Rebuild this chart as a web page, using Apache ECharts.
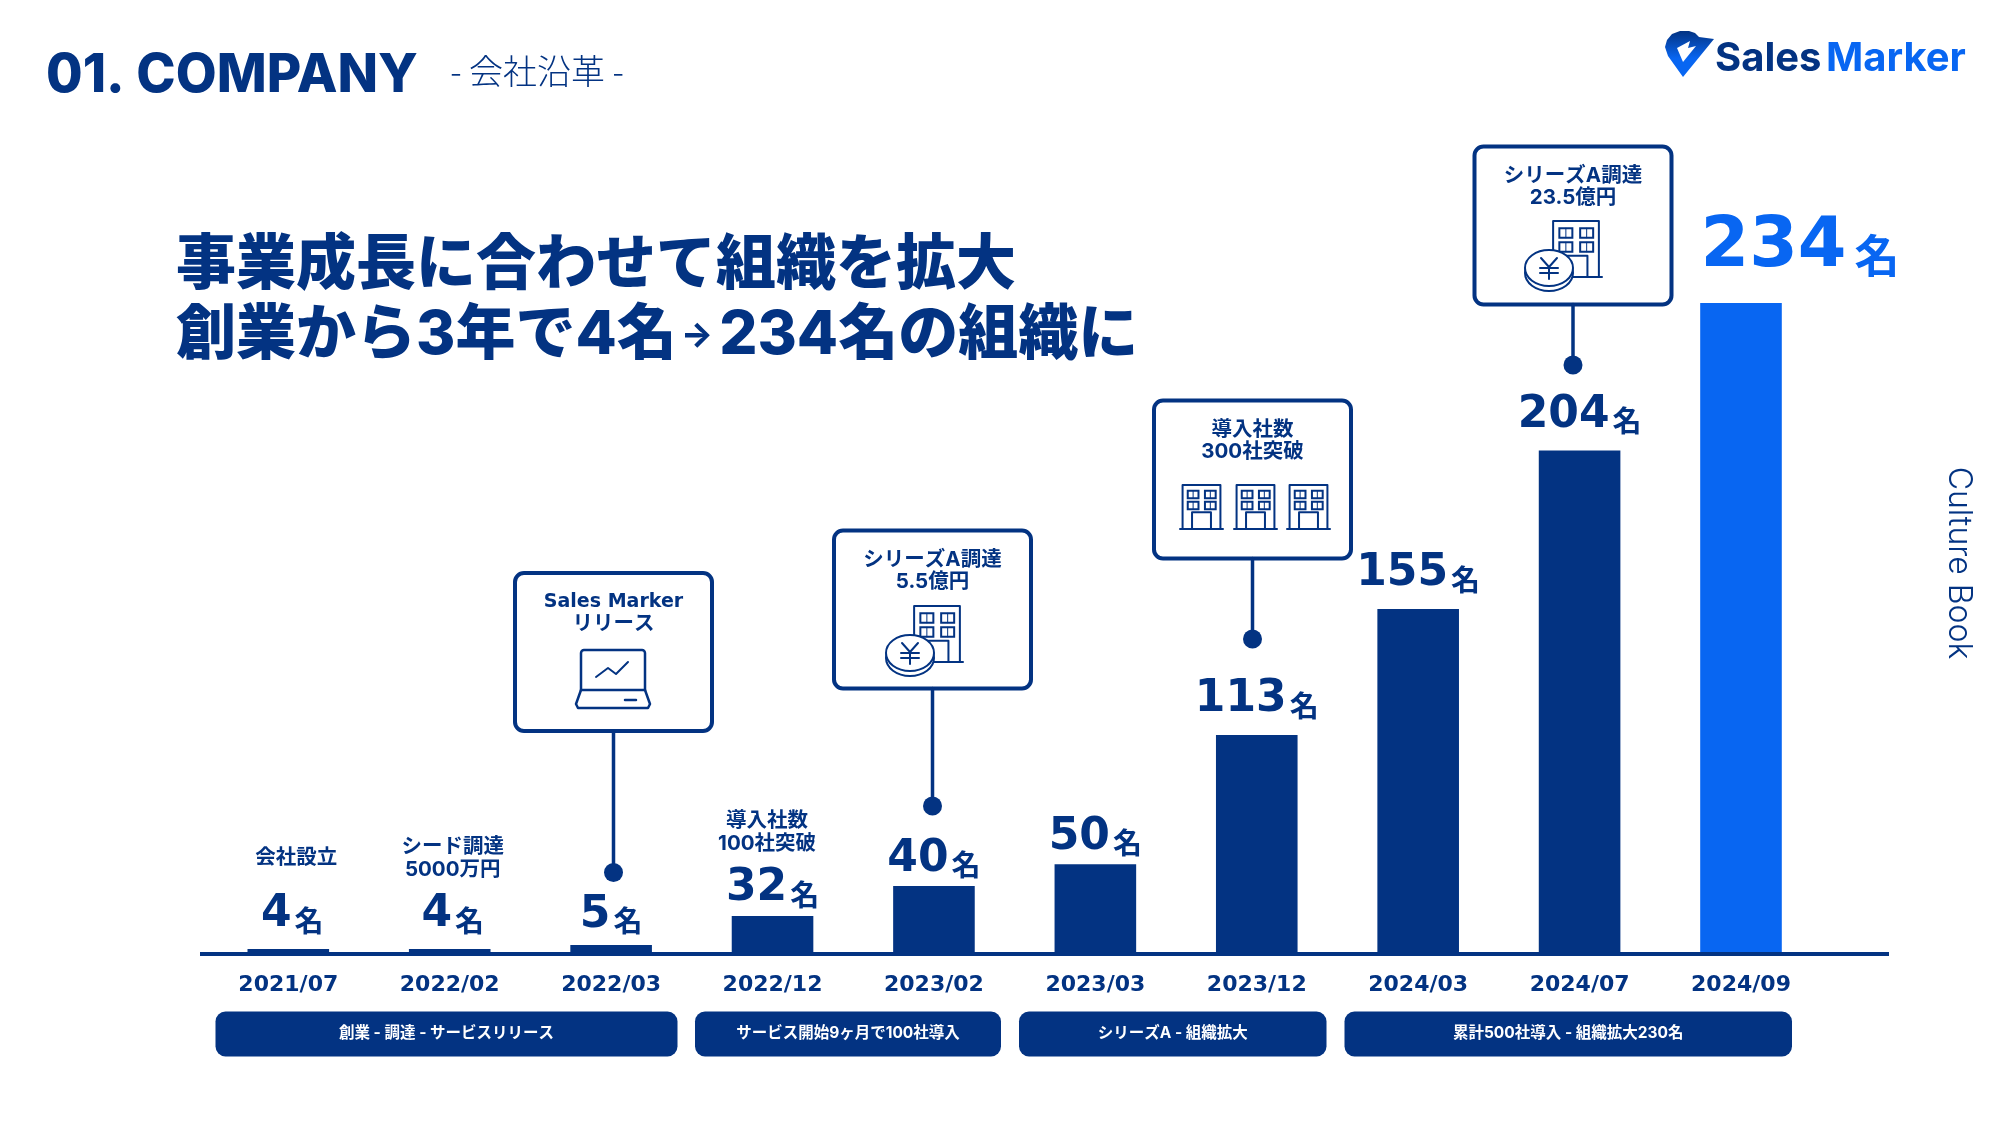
<!DOCTYPE html>
<html>
<head>
<meta charset="utf-8">
<title>会社沿革</title>
<script src="https://cdn.jsdelivr.net/npm/echarts@6/dist/echarts.min.js"></script>
<style>
html, body { margin: 0; padding: 0; background: #fff; }
#main { width: 2000px; height: 1125px; }
</style>
</head>
<body>
<div id="main"></div>
<script>
// data
var dates = ['2021/07', '2022/02', '2022/03', '2022/12', '2023/02', '2023/03', '2023/12', '2024/03', '2024/07', '2024/09'];
var headcount = [4, 4, 5, 32, 40, 50, 113, 155, 204, 234];
// the bars in the original are not to scale, these are the drawn heights on a 0-234 scale
var barLevels = [1.8, 1.8, 3.2, 13.7, 24.4, 32.3, 78.7, 124, 181, 234];
var notes = ['会社設立', 'シード調達\n5000万円', '', '導入社数\n100社突破', '', '', '', '', '', ''];
var phases = ['創業 - 調達 - サービスリリース', 'サービス開始9ヶ月で100社導入', 'シリーズA - 組織拡大', '累計500社導入 - 組織拡大230名'];
var calloutA = ['Sales Marker', 'リリース'];
var calloutB = ['シリーズA調達', '5.5億円'];
var calloutC = ['導入社数', '300社突破'];
var calloutD = ['シリーズA調達', '23.5億円'];

var NAVY = '#033382';
var BLUE = '#0866F2';
var CJK = '"Noto Sans CJK JP"';
var NUM = '"DejaVu Sans"';

function txt(text, x, y, size, opt) {
    opt = opt || {};
    return {
        type: 'text', x: x, y: y, rotation: opt.rotation || 0, z: 10,
        style: {
            text: text,
            fill: opt.fill || NAVY,
            fontSize: size,
            fontFamily: opt.family || CJK,
            fontWeight: opt.weight || 700,
            align: opt.align || 'center',
            verticalAlign: 'middle',
            rich: opt.rich
        }
    };
}
function line(points, w) {
    return {type: 'polyline', z: 10, shape: {points: points}, style: {stroke: NAVY, lineWidth: w || 2, fill: null, lineCap: 'round', lineJoin: 'round'}};
}
function box(x, y, w, h, r, fill, lw) {
    return {type: 'rect', z: 9, shape: {x: x, y: y, width: w, height: h, r: r},
        style: {fill: fill || '#fff', stroke: lw ? NAVY : null, lineWidth: lw || 0}};
}

function building(x, y, w, h) {
    var out = [
        line([[x + w * 0.06, y + h], [x + w * 0.06, y], [x + w * 0.94, y], [x + w * 0.94, y + h]]),
        line([[x, y + h], [x + w, y + h]]),
        line([[x + w * 0.28, y + h], [x + w * 0.28, y + h * 0.62], [x + w * 0.72, y + h * 0.62], [x + w * 0.72, y + h]])
    ];
    [0.18, 0.58].forEach(function (fx) {
        [0.13, 0.38].forEach(function (fy) {
            out.push({type: 'rect', z: 10, shape: {x: x + w * fx, y: y + h * fy, width: w * 0.25, height: h * 0.17},
                style: {fill: null, stroke: NAVY, lineWidth: 2}});
            out.push(line([[x + w * (fx + 0.125), y + h * fy], [x + w * (fx + 0.125), y + h * (fy + 0.17)]], 1));
        });
    });
    return out;
}
function moneyIcon(x, y) {
    var out = building(x + 25, y, 52, 56);
    var cx = x + 24, cy = y + 47;
    out.push({type: 'ellipse', z: 11, shape: {cx: cx, cy: cy + 5, rx: 24, ry: 18}, style: {fill: '#fff', stroke: NAVY, lineWidth: 2}});
    out.push({type: 'ellipse', z: 11, shape: {cx: cx, cy: cy, rx: 24, ry: 18}, style: {fill: '#fff', stroke: NAVY, lineWidth: 2}});
    [[[cx - 8, cy - 10], [cx, cy - 1], [cx + 8, cy - 10]], [[cx, cy - 1], [cx, cy + 11]], [[cx - 9, cy], [cx + 9, cy]], [[cx - 9, cy + 5], [cx + 9, cy + 5]]].forEach(function (p) {
        var l = line(p);
        l.z = 12;
        out.push(l);
    });
    return out;
}
function laptopIcon(x, y) {
    return [
        {type: 'rect', z: 10, shape: {x: x + 5, y: y, width: 64, height: 40, r: [3, 3, 0, 0]}, style: {fill: null, stroke: NAVY, lineWidth: 2.5}},
        line([[x + 5, y + 40], [x, y + 54], [x + 2, y + 58], [x + 72, y + 58], [x + 74, y + 54], [x + 69, y + 40]], 2.5),
        line([[x + 49, y + 50], [x + 60, y + 50]], 2.5),
        line([[x + 20, y + 27], [x + 32, y + 18], [x + 40, y + 24], [x + 52, y + 12]], 2)
    ];
}

// callout box with stem and dot; returns graphic elements
function callout(x, y, lines, dotY, icons) {
    var w = 197, h = 158, cx = x + w / 2;
    var latin = lines[0] === 'Sales Marker';
    var out = [
        line([[cx, y + h], [cx, dotY]], 3.5),
        {type: 'circle', z: 10, shape: {cx: cx, cy: dotY, r: 9.5}, style: {fill: NAVY}},
        box(x, y, w, h, 9, '#fff', 4),
        txt(lines[0], cx, y + 29, latin ? 19 : 20.5, {family: latin ? NUM : 'Inter, ' + CJK}),
        txt(lines[1], cx, y + 51, 20.5, {family: 'Inter, ' + CJK})
    ];
    return out.concat(icons);
}

// small label shifts, the original labels are placed by hand
var nudgeX = [4, 3, 0, 0, 0, 0, 0, 0, 0, 59];
var nudgeY = [1, 1, 5, 8, 8, 8, 0, 0, 0, -8];
var noteStyle = ['noteR', 'note', 'note', 'noteL', 'note', 'note', 'note', 'note', 'note', 'note'];

var labelData = barLevels.map(function (v, i) {
    var last = i === barLevels.length - 1;
    var note = '';
    if (notes[i]) {
        var s = noteStyle[i];
        note = '{' + s + '|' + notes[i].split('\n').join('}\n{' + s + '|') + '}\n' + (notes[i].indexOf('\n') < 0 ? '{gapWide|}' : '{gap|}') + '\n';
    }
    return {
        value: v,
        itemStyle: {color: last ? BLUE : NAVY},
        label: {
            offset: [nudgeX[i], nudgeY[i]],
            formatter: note + (last ? '{bigNum|' + headcount[i] + '}{bigUnit|名}' : '{num|' + headcount[i] + '}{unit|名}')
        }
    };
});

var noteFont = {fontFamily: 'Inter, ' + CJK, fontWeight: 700, fontSize: 20.5, lineHeight: 23, color: NAVY};

var chart = echarts.init(document.getElementById('main'));
var pills = [[215.5, 462], [695, 306], [1019, 307.5], [1344.5, 447.5]];
var headRich = {
    arrow: {fontFamily: 'Inter', fontWeight: 800, fontSize: 34, color: NAVY, padding: [0, 6, 0, 4]},
    t: {fontFamily: 'Inter, ' + CJK, fontWeight: 800, fontSize: 60, color: NAVY}
};
var graphics = [
    txt('01. COMPANY', 46, 76, 53, {family: 'Inter', weight: 800, align: 'left'}),
    txt('- 会社沿革 -', 537, 71, 34, {weight: 300}),
    txt('事業成長に合わせて組織を拡大', 176, 266, 60, {family: 'Inter, ' + CJK, weight: 800, align: 'left'}),
    txt('{t|創業から3年で4名}{arrow|→}{t|234名の組織に}', 176, 336, 60, {family: 'Inter, ' + CJK, weight: 800, align: 'left', rich: headRich}),
    txt('Culture Book', 1959, 563, 32, {family: 'Inter', weight: 300, rotation: -Math.PI / 2}),
    // logo
    {type: 'polygon', z: 10, shape: {
        points: [[1683, 77], [1668, 56], [1665, 47], [1667, 40], [1672, 34], [1680, 31], [1689, 31], [1695, 33], [1699, 37], [1714, 39]]},
        style: {fill: {type: 'linear', x: 0, y: 0, x2: 0, y2: 1, colorStops: [{offset: 0, color: NAVY}, {offset: 0.6, color: BLUE}, {offset: 1, color: BLUE}]}}},
    {type: 'polygon', z: 11, shape: {points: [[1677, 48], [1690, 41], [1688, 48], [1696, 46], [1683, 62]]}, style: {fill: '#fff'}},
    txt('Sales', 1715, 59, 40, {family: 'Inter', align: 'left', fill: NAVY}),
    txt('Marker', 1826, 59, 40, {family: 'Inter', align: 'left', fill: BLUE})
];
phases.forEach(function (p, i) {
    graphics.push(box(pills[i][0], 1011.5, pills[i][1], 45, 10, NAVY, 0));
    graphics.push(txt(p, pills[i][0] + pills[i][1] / 2, 1033, 15.5, {fill: '#fff', family: 'Inter, ' + CJK}));
});
graphics = graphics
    .concat(callout(515, 573, calloutA, 872.5, laptopIcon(576, 650)))
    .concat(callout(834, 530.5, calloutB, 806, moneyIcon(886, 606)))
    .concat(callout(1154, 400.5, calloutC, 639, [].concat(building(1180, 485, 43, 44), building(1234, 485, 43, 44), building(1287, 485, 43, 44))))
    .concat(callout(1474.5, 146.5, calloutD, 365, moneyIcon(1525, 221)));

var option = {
    backgroundColor: '#fff',
    animation: false,
    grid: {left: 207.6, right: 178.3, top: 303, bottom: 171},
    xAxis: {
        type: 'category',
        data: dates,
        axisLine: {show: false},
        axisTick: {show: false},
        axisLabel: {color: NAVY, fontFamily: NUM, fontWeight: 700, fontSize: 22, margin: 20}
    },
    yAxis: {type: 'value', min: 0, max: 234, show: false},
    series: [{
        type: 'bar',
        barWidth: 81.6,
        data: labelData,
        label: {
            show: true,
            position: 'top',
            distance: 11,
            color: NAVY,
            rich: {
                note: noteFont,
                noteR: Object.assign({padding: [0, 0, 0, 8]}, noteFont),
                noteL: Object.assign({padding: [0, 11, 0, 0]}, noteFont),
                gap: {fontSize: 10, lineHeight: 10},
                gapWide: {fontSize: 10, lineHeight: 22},
                num: {fontFamily: NUM, fontWeight: 700, fontSize: 44, lineHeight: 48, color: NAVY},
                unit: {fontFamily: CJK, fontWeight: 700, fontSize: 29, lineHeight: 36, color: NAVY, verticalAlign: 'middle', padding: [12, 0, 0, 3]},
                bigNum: {fontFamily: NUM, fontWeight: 700, fontSize: 70, lineHeight: 72, color: BLUE},
                bigUnit: {fontFamily: CJK, fontWeight: 700, fontSize: 45, lineHeight: 56, color: BLUE, verticalAlign: 'middle', padding: [16, 0, 0, 8]}
            }
        },
        // baseline runs past the first and last bands
        markLine: {
            silent: true,
            symbol: 'none',
            label: {show: false},
            lineStyle: {color: NAVY, width: 4, type: 'solid'},
            data: [[{x: 200, yAxis: 0}, {x: 1889, yAxis: 0}]]
        }
    }],
    graphic: graphics
};
chart.setOption(option);
</script>
</body>
</html>
